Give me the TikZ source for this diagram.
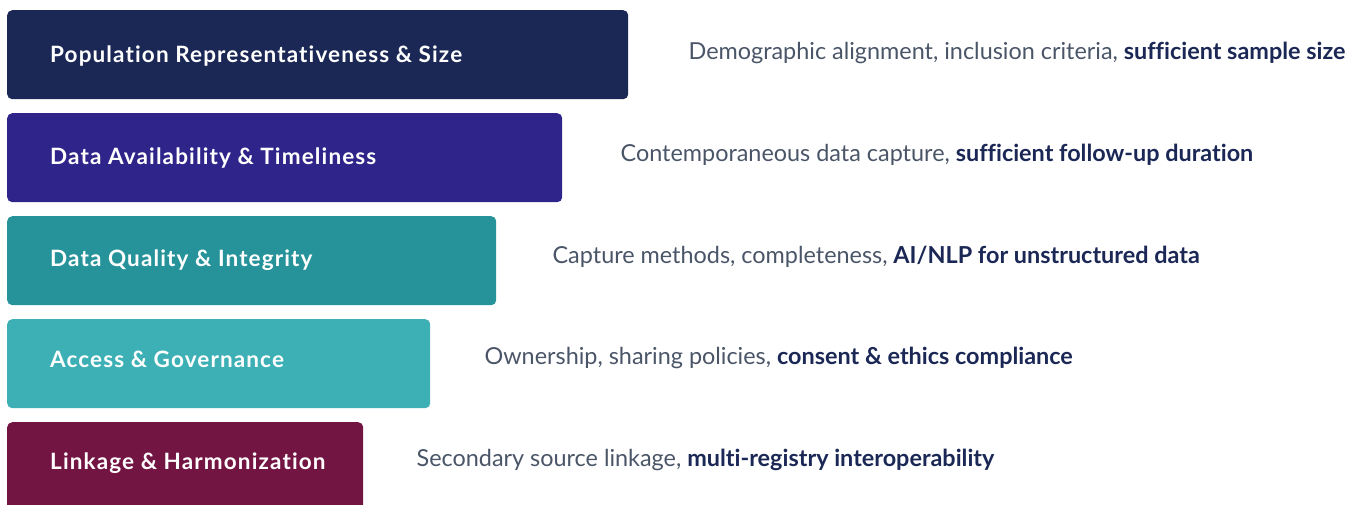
\documentclass[tikz,border=0pt]{standalone}
\usepackage{fontspec}
\setmainfont[Ligatures=CommonOff]{Lato}
\newfontfamily\tierfont[LetterSpace=5,Ligatures=CommonOff]{Lato}
\definecolor{navy}{HTML}{1B2856}
\definecolor{indigo}{HTML}{2E2489}
\definecolor{teal}{HTML}{26939A}
\definecolor{lightteal}{HTML}{3DB0B5}
\definecolor{maroon}{HTML}{731543}
\definecolor{desctext}{HTML}{4A5568}
\begin{document}
\begin{tikzpicture}[x=1pt,y=-1pt,
  bar/.style={fill=#1, draw=none, rounded corners=5pt, anchor=north west,
    minimum height=89pt, inner sep=0pt},
  barlabel/.style={anchor=base west, text=white, font=\tierfont\fontsize{22.5}{27}\selectfont\bfseries, inner sep=0pt},
  desc/.style={anchor=base west, text=desctext, font=\fontsize{23.4}{28}\selectfont, inner sep=0pt}]
  \useasboundingbox (0,0) rectangle (1348,505);
  \clip (0,0) rectangle (1348,505);
  \newcommand{\hl}[1]{\textcolor{navy}{\bfseries #1}}
  % tiers, narrowing downwards
  \node[bar=navy, minimum width=621pt] (b1) at (7,10) {};
  \node[bar=indigo, minimum width=555pt] (b2) at (7,113) {};
  \node[bar=teal, minimum width=489pt] (b3) at (7,216) {};
  \node[bar=lightteal, minimum width=423pt] (b4) at (7,319) {};
  \node[bar=maroon, minimum width=356pt] (b5) at (7,422) {};
  % tier names
  \node[barlabel] (l1) at ([xshift=43pt]b1.west |- 0,62.8) {Population Representativeness \& Size};
  \node[barlabel] (l2) at ([xshift=43pt]b2.west |- 0,164.4) {Data Availability \& Timeliness};
  \node[barlabel] (l3) at ([xshift=43pt]b3.west |- 0,266) {Data Quality \& Integrity};
  \node[barlabel] (l4) at ([xshift=43pt]b4.west |- 0,367.6) {Access \& Governance};
  \node[barlabel] (l5) at ([xshift=43pt]b5.west |- 0,469.2) {Linkage \& Harmonization};
  % descriptions
  \node[desc] (d1) at ([xshift=60pt]b1.east |- 0,59.3) {Demographic alignment, inclusion criteria, \hl{sufficient sample size}};
  \node[desc] (d2) at ([xshift=58pt]b2.east |- 0,161.1) {Contemporaneous data capture, \hl{sufficient follow-up duration}};
  \node[desc] (d3) at ([xshift=56pt]b3.east |- 0,263) {Capture methods, completeness, \hl{AI/NLP for unstructured data}};
  \node[desc] (d4) at ([xshift=54pt]b4.east |- 0,364.8) {Ownership, sharing policies, \hl{consent \& ethics compliance}};
  \node[desc] (d5) at ([xshift=53pt]b5.east |- 0,466.7) {Secondary source linkage, \hl{multi-registry interoperability}};
\end{tikzpicture}
\end{document}
